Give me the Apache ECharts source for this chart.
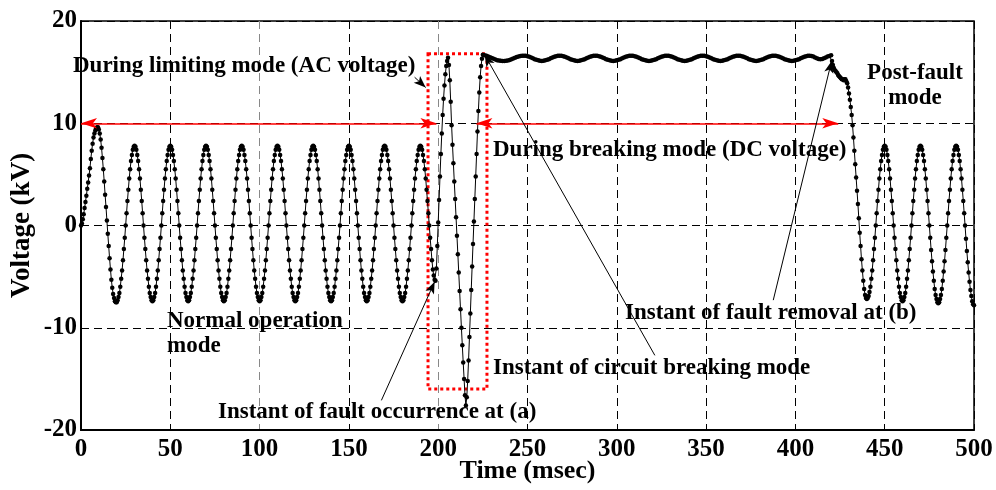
<!DOCTYPE html>
<html><head><meta charset="utf-8">
<script src="https://cdn.jsdelivr.net/npm/echarts@6/dist/echarts.min.js"></script>
<style>html,body{margin:0;padding:0;background:#fff}#c{width:996px;height:490px}</style>
</head><body><div id="c"></div>
<script>
// ---- axis ticks ----
const xTicks = [0, 50, 100, 150, 200, 250, 300, 350, 400, 450, 500];
const yTicks = [-20, -10, 0, 10, 20];

// ---- voltage readings (kV) ----
// normal operation + limiting mode, sampled every 0.5 ms from 0 ms to 225 ms
const seg1Start = 0, seg1Step = 0.5;
const normalAndLimiting = [
  0,
  0.2, 0.6, 1.1, 1.7, 2.3, 2.9, 3.6, 4.2, 4.9, 5.6, 6.5, 7.3, 8.0, 8.6, 9.0, 9.3, 9.5, 9.6, 9.6, 9.4,
  9.0, 8.4, 7.6, 6.6, 5.5, 4.3, 3.0, 1.8, 0.5, -0.8, -2.0, -3.2, -4.3, -5.3, -6.1, -6.7, -7.1, -7.4, -7.5, -7.5,
  -7.3, -7.0, -6.6, -6.0, -5.2, -4.4, -3.4, -2.3, -1.2, 0,
  1.2, 2.4, 3.5, 4.6, 5.5, 6.3, 6.9, 7.4, 7.7, 7.8, 7.7, 7.4, 6.9, 6.3, 5.5, 4.6, 3.5, 2.4, 1.2, 0,
  -1.2, -2.3, -3.4, -4.4, -5.2, -6.0, -6.6, -7.0, -7.3, -7.4, -7.3, -7.0, -6.6, -6.0, -5.2, -4.4, -3.4, -2.3, -1.2, 0,
  1.2, 2.4, 3.5, 4.6, 5.5, 6.3, 6.9, 7.4, 7.7, 7.8, 7.7, 7.4, 6.9, 6.3, 5.5, 4.6, 3.5, 2.4, 1.2, 0,
  -1.2, -2.3, -3.4, -4.4, -5.2, -6.0, -6.6, -7.0, -7.3, -7.4, -7.3, -7.0, -6.6, -6.0, -5.2, -4.4, -3.4, -2.3, -1.2, 0,
  1.2, 2.4, 3.5, 4.6, 5.5, 6.3, 6.9, 7.4, 7.7, 7.8, 7.7, 7.4, 6.9, 6.3, 5.5, 4.6, 3.5, 2.4, 1.2, 0,
  -1.2, -2.3, -3.4, -4.4, -5.2, -6.0, -6.6, -7.0, -7.3, -7.4, -7.3, -7.0, -6.6, -6.0, -5.2, -4.4, -3.4, -2.3, -1.2, 0,
  1.2, 2.4, 3.5, 4.6, 5.5, 6.3, 6.9, 7.4, 7.7, 7.8, 7.7, 7.4, 6.9, 6.3, 5.5, 4.6, 3.5, 2.4, 1.2, 0,
  -1.2, -2.3, -3.4, -4.4, -5.2, -6.0, -6.6, -7.0, -7.3, -7.4, -7.3, -7.0, -6.6, -6.0, -5.2, -4.4, -3.4, -2.3, -1.2, 0,
  1.2, 2.4, 3.5, 4.6, 5.5, 6.3, 6.9, 7.4, 7.7, 7.8, 7.7, 7.4, 6.9, 6.3, 5.5, 4.6, 3.5, 2.4, 1.2, 0,
  -1.2, -2.3, -3.4, -4.4, -5.2, -6.0, -6.6, -7.0, -7.3, -7.4, -7.3, -7.0, -6.6, -6.0, -5.2, -4.4, -3.4, -2.3, -1.2, 0,
  1.2, 2.4, 3.5, 4.6, 5.5, 6.3, 6.9, 7.4, 7.7, 7.8, 7.7, 7.4, 6.9, 6.3, 5.5, 4.6, 3.5, 2.4, 1.2, 0,
  -1.2, -2.3, -3.4, -4.4, -5.2, -6.0, -6.6, -7.0, -7.3, -7.4, -7.3, -7.0, -6.6, -6.0, -5.2, -4.4, -3.4, -2.3, -1.2, 0,
  1.2, 2.4, 3.5, 4.6, 5.5, 6.3, 6.9, 7.4, 7.7, 7.8, 7.7, 7.4, 6.9, 6.3, 5.5, 4.6, 3.5, 2.4, 1.2, 0,
  -1.2, -2.3, -3.4, -4.4, -5.2, -6.0, -6.6, -7.0, -7.3, -7.4, -7.3, -7.0, -6.6, -6.0, -5.2, -4.4, -3.4, -2.3, -1.2, 0,
  1.2, 2.4, 3.5, 4.6, 5.5, 6.3, 6.9, 7.4, 7.7, 7.8, 7.7, 7.4, 6.9, 6.3, 5.5, 4.6, 3.5, 2.4, 1.2, 0,
  -1.2, -2.3, -3.4, -4.4, -5.2, -6.0, -6.6, -7.0, -7.3, -7.4, -7.3, -7.0, -6.6, -6.0, -5.2, -4.4, -3.4, -2.3, -1.2, 0,
  1.2, 2.4, 3.5, 4.6, 5.5, 6.3, 6.9, 7.4, 7.7, 7.8, 7.7, 7.4, 6.9, 6.3, 5.5, 4.6, 3.5, 2.4, 1.2, 0,
  -1.2, -2.3, -3.4, -4.3, -4.9, -5.3, -5.4, -4.2, -2.0, 0.3,
  2.5, 4.8, 7.0, 9.0, 10.8, 12.4, 13.7, 14.8, 15.6, 16.1, 16.4, 15.7, 14.2, 12.1, 9.8, 7.9, 6.1, 4.3, 2.6, 0.8,
  -1.0, -2.8, -4.6, -6.4, -8.2, -10.0, -11.7, -13.4, -15.0, -16.6, -17.6, -16.8, -15.2, -13.2, -10.9, -8.6, -6.3, -4.0, -1.8, 0.4,
  2.6, 4.8, 7.0, 9.2, 11.2, 13.0, 14.5, 15.6, 16.3, 16.7
];
// breaking mode (DC voltage with ripple), sampled every 1 ms from 226 ms to 419 ms
const seg2Start = 226, seg2Step = 1;
const breakingDC = [
  16.66, 16.6, 16.53, 16.46, 16.38, 16.3, 16.23, 16.17, 16.13, 16.11, 16.1, 16.1,
  16.11, 16.14, 16.19, 16.26, 16.33, 16.41, 16.48, 16.54, 16.58, 16.6, 16.6,
  16.59, 16.55, 16.5, 16.43, 16.35, 16.27, 16.2, 16.15, 16.11, 16.1, 16.11, 16.15, 16.2, 16.27, 16.35, 16.43, 16.5, 16.55, 16.59, 16.6,
  16.59, 16.55, 16.5, 16.43, 16.35, 16.27, 16.2, 16.15, 16.11, 16.1, 16.11, 16.15, 16.2, 16.27, 16.35, 16.43, 16.5, 16.55, 16.59, 16.6,
  16.59, 16.55, 16.5, 16.43, 16.35, 16.27, 16.2, 16.15, 16.11, 16.1, 16.11, 16.15, 16.2, 16.27, 16.35, 16.43, 16.5, 16.55, 16.59, 16.6,
  16.59, 16.55, 16.5, 16.43, 16.35, 16.27, 16.2, 16.15, 16.11, 16.1, 16.11, 16.15, 16.2, 16.27, 16.35, 16.43, 16.5, 16.55, 16.59, 16.6,
  16.59, 16.55, 16.5, 16.43, 16.35, 16.27, 16.2, 16.15, 16.11, 16.1, 16.11, 16.15, 16.2, 16.27, 16.35, 16.43, 16.5, 16.55, 16.59, 16.6,
  16.59, 16.55, 16.5, 16.43, 16.35, 16.27, 16.2, 16.15, 16.11, 16.1, 16.11, 16.15, 16.2, 16.27, 16.35, 16.43, 16.5, 16.55, 16.59, 16.6,
  16.59, 16.55, 16.5, 16.43, 16.35, 16.27, 16.2, 16.15, 16.11, 16.1, 16.11, 16.15, 16.2, 16.27, 16.35, 16.43, 16.5, 16.55, 16.59, 16.6,
  16.59, 16.55, 16.5, 16.43, 16.35, 16.27, 16.2, 16.15, 16.11, 16.1, 16.11, 16.15, 16.2, 16.27, 16.35, 16.43, 16.5, 16.55, 16.59, 16.6,
  16.58, 16.52, 16.44, 16.35, 16.28, 16.25, 16.28, 16.35, 16.44, 16.52, 16.57
];
// post-fault mode, sampled every 0.5 ms from 420 ms to 500 ms
const seg3Start = 420, seg3Step = 0.5;
const postFault = [
  16.65,
  16.1, 15.7, 15.4, 15.2, 15.1, 15.0, 14.9, 14.7, 14.6, 14.5, 14.4, 14.3, 14.3, 14.2, 14.3, 14.3, 14.1, 13.9, 13.5, 12.9,
  12.3, 11.6, 10.8, 9.8, 8.6, 7.3, 6.0, 4.7, 3.4, 2.1, 0.7, -0.7, -2.0, -3.3, -4.4, -5.4, -6.2, -6.8, -7.1, -7.2,
  -7.1, -6.9, -6.5, -6.0, -5.2, -4.4, -3.4, -2.3, -1.2, 0,
  1.2, 2.4, 3.5, 4.6, 5.5, 6.3, 6.9, 7.4, 7.7, 7.8, 7.7, 7.4, 6.9, 6.3, 5.5, 4.6, 3.5, 2.4, 1.2, 0,
  -1.2, -2.3, -3.4, -4.4, -5.2, -6.0, -6.6, -7.0, -7.3, -7.4, -7.3, -7.0, -6.6, -6.0, -5.2, -4.4, -3.4, -2.3, -1.2, 0,
  1.2, 2.4, 3.5, 4.6, 5.5, 6.3, 6.9, 7.4, 7.7, 7.8, 7.7, 7.4, 6.9, 6.3, 5.5, 4.6, 3.5, 2.4, 1.2, 0,
  -1.2, -2.4, -3.5, -4.5, -5.4, -6.2, -6.8, -7.2, -7.5, -7.6, -7.5, -7.2, -6.8, -6.2, -5.4, -4.5, -3.5, -2.4, -1.2, 0,
  1.2, 2.4, 3.5, 4.6, 5.5, 6.3, 6.9, 7.4, 7.7, 7.8, 7.7, 7.4, 6.9, 6.3, 5.5, 4.6, 3.5, 2.4, 1.2, 0,
  -1.3, -2.5, -3.6, -4.6, -5.5, -6.3, -6.9, -7.4, -7.7, -7.8
];

// ---- annotation anchors (data coordinates: ms, kV) ----
const limitingBox = [[194.3, 16.8], [227.3, -16.0]];
const modeSpans = [[[0, 10], [199, 10]], [[221.4, 10], [424, 10]]];
const pointerArrows = [
  [[186.8, 14.5], [193.0, 13.5]],
  [[168.2, -17.1], [198.0, -5.5]],
  [[321.3, -12.7], [226.0, 16.7]],
  [[387.6, -7.3], [420.3, 16.1]]
];

function toPairs(start, step, vals) {
  return vals.map((v, i) => [Math.round((start + i * step) * 100) / 100, v]);
}
const voltageData = [].concat(
  toPairs(seg1Start, seg1Step, normalAndLimiting),
  toPairs(seg2Start, seg2Step, breakingDC),
  toPairs(seg3Start, seg3Step, postFault)
);

const FONT = '"Liberation Serif", "Times New Roman", serif';
const annFont = 'bold 23px ' + FONT;

const chart = echarts.init(document.getElementById('c'), null, {renderer: 'canvas'});
chart.setOption({
  animation: false,
  backgroundColor: '#fff',
  grid: {left: 81, right: 22, top: 21, bottom: 60, show: true, borderColor: '#000', borderWidth: 1.5,
         backgroundColor: 'transparent', containLabel: false, outerBoundsMode: 'none'},
  xAxis: {
    type: 'value', min: xTicks[0], max: xTicks[xTicks.length - 1], interval: 50,
    name: 'Time (msec)', nameLocation: 'middle', nameGap: 28, nameMoveOverlap: false,
    nameTextStyle: {fontFamily: FONT, fontWeight: 'bold', fontSize: 26, color: '#000'},
    axisLine: {show: true, onZero: false, lineStyle: {color: '#000', width: 2}},
    axisTick: {show: false},
    axisLabel: {fontFamily: FONT, fontWeight: 'bold', fontSize: 25, color: '#000', margin: 7},
    splitLine: {show: true, lineStyle: {color: ['#000', '#000', '#888', '#000', '#888', '#000', '#000', '#000', '#000', '#000', '#000'], width: 1, type: [8, 5]}}
  },
  yAxis: {
    type: 'value', min: yTicks[0], max: yTicks[yTicks.length - 1], interval: 10,
    name: 'Voltage (kV)', nameLocation: 'middle', nameGap: 45, nameMoveOverlap: false,
    nameTextStyle: {fontFamily: FONT, fontWeight: 'bold', fontSize: 27, color: '#000'},
    axisLine: {show: true, onZero: false, lineStyle: {color: '#000', width: 2}},
    axisTick: {show: false},
    axisLabel: {fontFamily: FONT, fontWeight: 'bold', fontSize: 25, color: '#000', margin: 4},
    splitLine: {show: true, lineStyle: {color: '#000', width: 1, type: [8, 5]}}
  },
  series: [
    {
      type: 'line', name: 'Voltage', data: voltageData,
      symbol: 'circle', symbolSize: 4.5, showAllSymbol: true,
      lineStyle: {color: '#000', width: 1},
      itemStyle: {color: '#000'},
      silent: true, z: 3
    },
    {
      type: 'line', data: [], silent: true, z: 4,
      markArea: {
        silent: true,
        itemStyle: {color: 'rgba(0,0,0,0)', borderColor: '#ff0000', borderWidth: 3, borderType: 'dotted'},
        data: [[{coord: limitingBox[0]}, {coord: limitingBox[1]}]]
      }
    },
    {
      type: 'line', data: [], silent: true, z: 5,
      markLine: {
        silent: true, animation: false,
        symbol: ['arrow', 'arrow'], symbolSize: [8, 16],
        label: {show: false},
        lineStyle: {color: '#ff0000', width: 1.5, type: 'solid'},
        data: modeSpans.map(s => [{coord: s[0]}, {coord: s[1]}])
      }
    },
    {
      type: 'line', data: [], silent: true, z: 6,
      markLine: {
        silent: true, animation: false,
        symbol: ['none', 'arrow'], symbolSize: [7, 12],
        label: {show: false},
        lineStyle: {color: '#000', width: 1, type: 'solid'},
        data: pointerArrows.map(s => [{coord: s[0]}, {coord: s[1]}])
      }
    }
  ],
  graphic: [
    {type: 'text', x: 73, y: 66, z: 10, style: {text: 'During limiting mode (AC voltage)', font: annFont, fill: '#000', verticalAlign: 'middle'}},
    {type: 'text', x: 493, y: 150, z: 10, style: {text: 'During breaking mode (DC voltage)', font: annFont, fill: '#000', verticalAlign: 'middle'}},
    {type: 'text', x: 915, y: 73, z: 10, style: {text: 'Post-fault', font: annFont, fill: '#000', align: 'center', verticalAlign: 'middle'}},
    {type: 'text', x: 915, y: 98, z: 10, style: {text: 'mode', font: annFont, fill: '#000', align: 'center', verticalAlign: 'middle'}},
    {type: 'text', x: 167, y: 321, z: 10, style: {text: 'Normal operation', font: annFont, fill: '#000', verticalAlign: 'middle'}},
    {type: 'text', x: 167, y: 346, z: 10, style: {text: 'mode', font: annFont, fill: '#000', verticalAlign: 'middle'}},
    {type: 'text', x: 493, y: 368, z: 10, style: {text: 'Instant of circuit breaking mode', font: annFont, fill: '#000', verticalAlign: 'middle'}},
    {type: 'text', x: 218, y: 412, z: 10, style: {text: 'Instant of fault occurrence at (a)', font: annFont, fill: '#000', verticalAlign: 'middle'}},
    {type: 'text', x: 625, y: 313, z: 10, style: {text: 'Instant of fault removal at (b)', font: annFont, fill: '#000', verticalAlign: 'middle'}}
  ]
});
</script>
</body></html>
